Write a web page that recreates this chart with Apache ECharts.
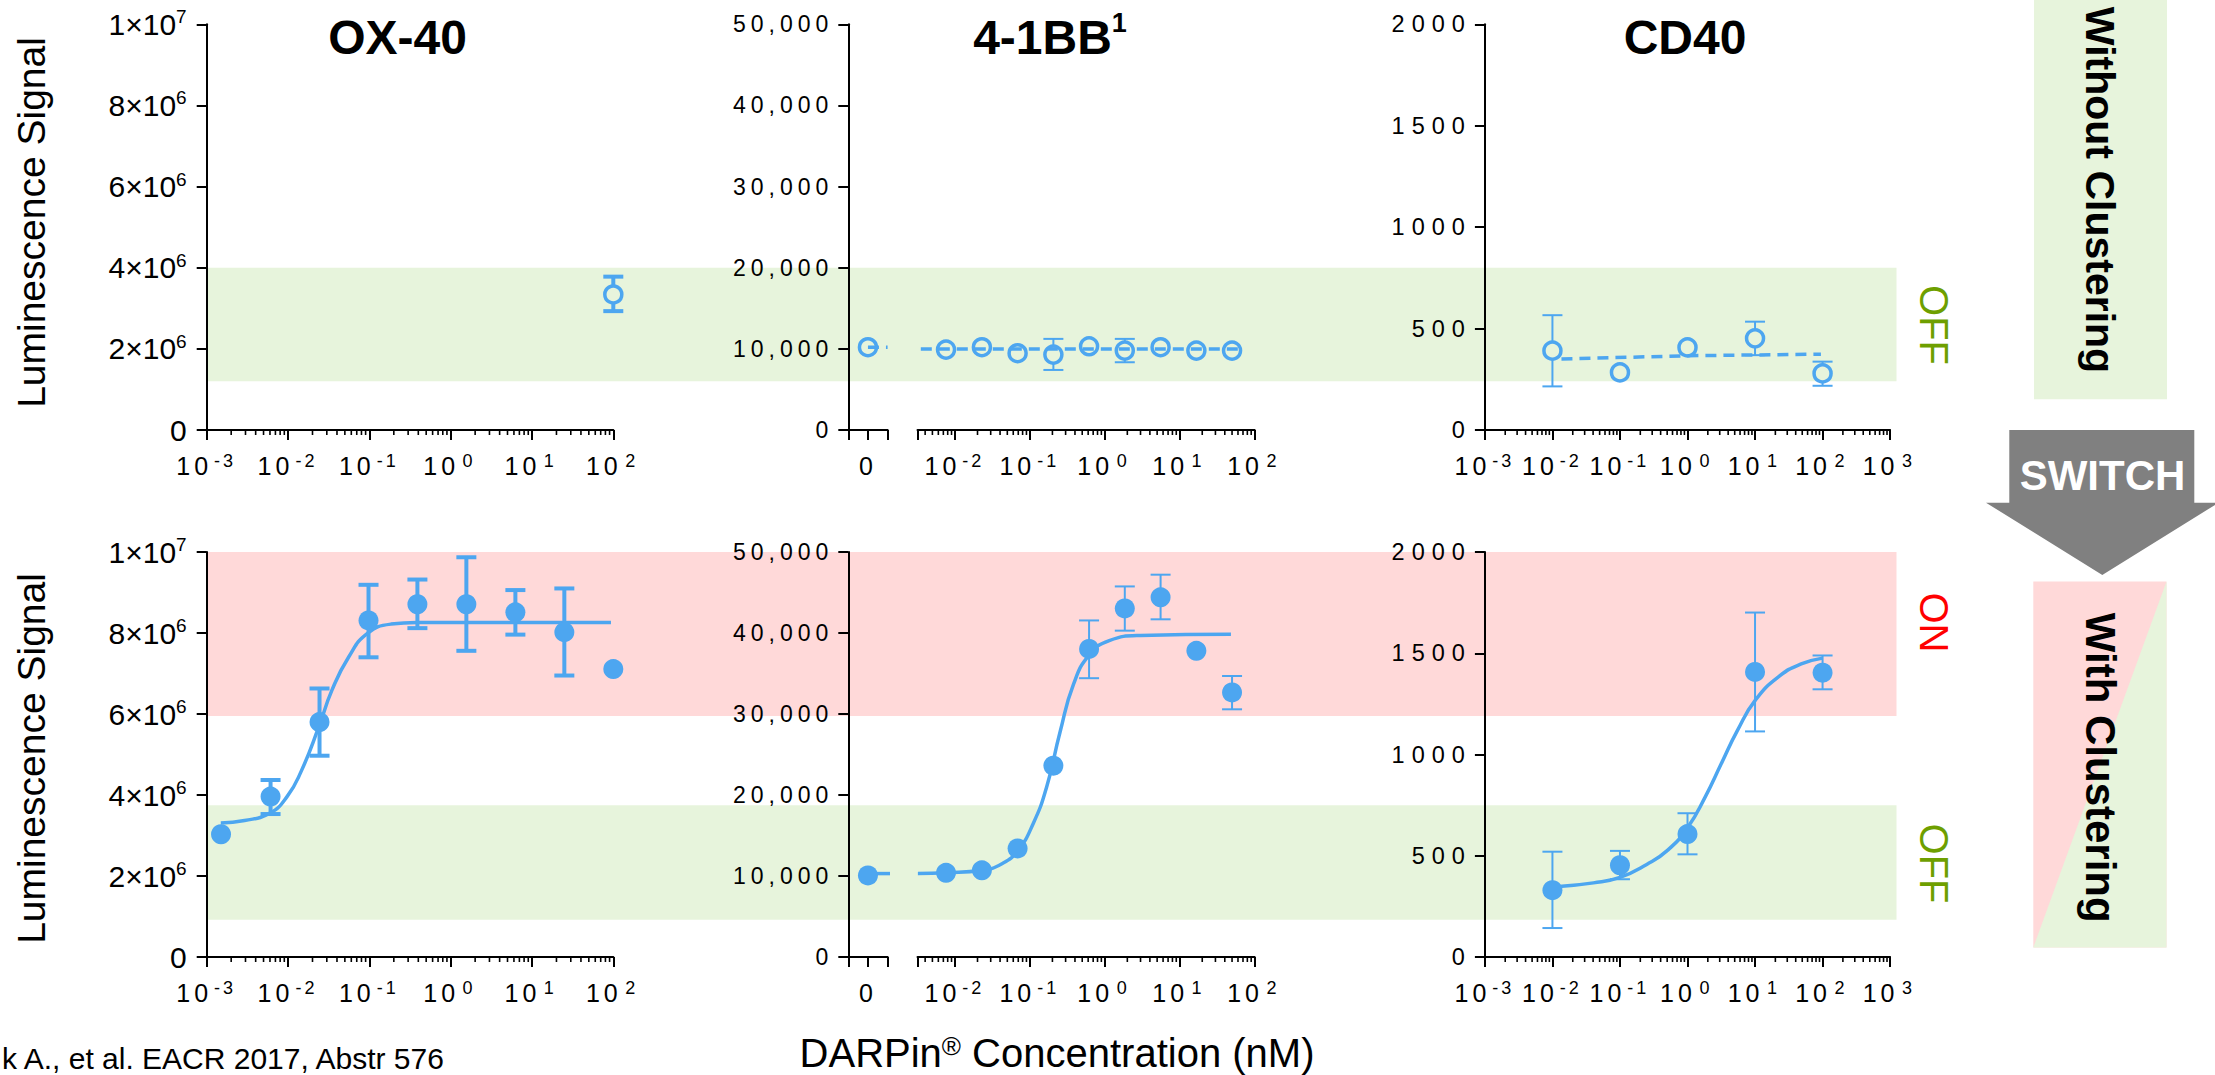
<!DOCTYPE html>
<html><head><meta charset="utf-8">
<script src="https://cdn.jsdelivr.net/npm/echarts@6/dist/echarts.min.js"></script>
<style>
html,body{margin:0;padding:0;background:#fff;overflow:hidden}
#chart{width:2215px;height:1075px}
#chart text[style*="23px"]{letter-spacing:5px}
#chart text[style*="23.5px"]{letter-spacing:7px}
#chart text[style*="25px"]{letter-spacing:4px}
#chart text[style*="18px"]{letter-spacing:3px}
</style></head><body><div id="chart"></div>
<script>
// ---------------- DATA ----------------
// OX-40 (concentration in nM, luminescence signal)
const ox40NoClusterConc = [100];
const ox40NoClusterSignal = [3.34e6];
const ox40NoClusterLow = [2.93e6];
const ox40NoClusterHigh = [3.78e6];

const ox40Conc = [0.0015, 0.0061, 0.0244, 0.0977, 0.39, 1.56, 6.25, 25, 100];
const ox40Signal = [3.03e6, 3.96e6, 5.80e6, 8.31e6, 8.71e6, 8.71e6, 8.51e6, 8.02e6, 7.11e6];
const ox40Low = [null, 3.53e6, 4.97e6, 7.40e6, 8.12e6, 7.56e6, 7.96e6, 6.95e6, null];
const ox40High = [null, 4.37e6, 6.63e6, 9.19e6, 9.32e6, 9.87e6, 9.06e6, 9.10e6, null];
const ox40FitConc = [0.00149, 0.00292, 0.00593, 0.00973, 0.01455, 0.0239, 0.0347, 0.0555, 0.0948, 0.185, 0.386, 5, 93.6];
const ox40FitSignal = [3.31e6, 3.37e6, 3.55e6, 3.96e6, 4.59e6, 5.68e6, 6.59e6, 7.40e6, 7.99e6, 8.22e6, 8.26e6, 8.26e6, 8.26e6];

// 4-1BB
const bbConc = [0.0076, 0.0229, 0.0686, 0.206, 0.617, 1.85, 5.56, 16.7, 50];
const bbNoClusterZero = [10200];
const bbNoCluster = [9910, 10200, 9460, 9290, 10320, 9790, 10200, 9790, 9790];
const bbNoClusterLow = [null, null, null, 7400, null, 8350, null, null, null];
const bbNoClusterHigh = [null, null, null, 11230, null, 11230, null, null, null];
const bbNoClusterFitConc = [0.0035, 60];
const bbNoClusterFitSignal = [9990, 9990];
const bbNoClusterZeroFit = [[0, 10200], [1, 10200]];

const bbClusterZero = [10070];
const bbCluster = [10390, 10700, 13410, 23620, 38030, 43040, 44400, 37800, 32660];
const bbClusterLow = [null, null, null, null, 34420, 40290, 41690, null, 30580];
const bbClusterHigh = [null, null, null, null, 41550, 45750, 47200, null, 34690];
const bbFitConc = [0.0032, 0.0076, 0.0228, 0.0424, 0.0686, 0.111, 0.1675, 0.253, 0.382, 0.618, 1.148, 3.0, 48.3];
const bbFitSignal = [10300, 10390, 10700, 11520, 13100, 16490, 21000, 27780, 33650, 37260, 39070, 39700, 39840];
const bbClusterZeroFit = [[0, 10300], [1.2, 10300]];

// CD40
const cdConc = [0.01, 0.1, 1, 10, 100];
const cdNoCluster = [391, 284, 407, 452, 279];
const cdNoClusterLow = [215, null, null, 369, 218];
const cdNoClusterHigh = [566, null, null, 534, 337];
const cdNoClusterFitConc = [0.0136, 1, 94.6];
const cdNoClusterFitSignal = [350, 366, 374];

const cdCluster = [330, 453, 607, 1408, 1404];
const cdClusterLow = [143, 384, 507, 1114, 1322];
const cdClusterHigh = [520, 524, 710, 1701, 1489];
const cdFitConc = [0.01245, 0.0405, 0.1, 0.249, 0.515, 1.0, 1.84, 3.17, 5.47, 10.3, 23.4, 48.3, 100];
const cdFitSignal = [348, 366, 393, 457, 529, 638, 792, 955, 1118, 1272, 1389, 1447, 1476];

// OFF / ON bands (in OX-40 signal units, shared pixel rows across panels)
const offBandNoCluster = [1.2e6, 4e6];
const onBandCluster = [5.95e6, 1e7];
const offBandCluster = [0.92e6, 3.75e6];

// axis ranges / ticks
const ox40XRange = [0.001, 100];
const bbXRange = [0.0031623, 100];
const cdXRange = [0.001, 1000];
const ox40YMax = 1e7, ox40YStep = 2e6;
const bbYMax = 50000, bbYStep = 10000;
const cdYMax = 2000, cdYStep = 500;
const minorMultipliers = [2, 3, 4, 5, 6, 7, 8, 9];

// ---------------- STYLE / LAYOUT ----------------
const FONT = "'Liberation Sans', Arial, Helvetica, sans-serif";
const BLUE = '#4DA6F0';
const GREEN_BAND = '#E7F4DC';
const RED_BAND = '#FFD9D9';
const TOP_ROW = {top: 24.3, height: 405.7};
const BOT_ROW = {top: 552, height: 405};
const COLS = [
  {left: 206.7, width: 406.6},
  {left: 848.3, width: 39.3},
  {left: 917.5, width: 337.1},
  {left: 1484.9, width: 405.2}
];

const X_RICH = {
  b: {fontSize: 25, lineHeight: 28, fontFamily: FONT, color: '#000'},
  s: {fontSize: 18, lineHeight: 11, verticalAlign: 'top', padding: [0, 0, 0, 9], fontFamily: FONT, color: '#000'}
};
const SCI_RICH = {
  b: {fontSize: 30, lineHeight: 34, fontFamily: FONT, color: '#000'},
  s: {fontSize: 19, lineHeight: 26, verticalAlign: 'top', fontFamily: FONT, color: '#000'}
};

function expLabel(v) {
  const e = Math.log10(v), r = Math.round(e);
  if (Math.abs(e - r) > 1e-6) return '';
  return '{b|10}{s|' + r + '}';
}
function sciLabel(v) {
  if (v === 0) return '{b|0}';
  const e = Math.floor(Math.log10(v) + 1e-9);
  const m = Math.round(v / Math.pow(10, e));
  return '{b|' + m + '×10}{s|' + e + '}';
}
function commaLabel(v) { return Math.round(v).toLocaleString('en-US'); }
function plainLabel(v) { return String(Math.round(v)); }

function minorValues(range) {
  const out = [];
  const e0 = Math.floor(Math.log10(range[0]) + 1e-9), e1 = Math.round(Math.log10(range[1]));
  for (let e = e0; e < e1; e++) minorMultipliers.forEach(m => {
    const v = m * Math.pow(10, e);
    if (v > range[0] && v < range[1]) out.push(v);
  });
  return out;
}

const AXLINE = {show: true, onZero: false, lineStyle: {color: '#000', width: 2}};

function logX(gi, range) {
  return {
    type: 'log', logBase: 10, gridIndex: gi, min: range[0], max: range[1], splitNumber: 6,
    axisLine: AXLINE,
    axisTick: {show: true, interval: 0, length: 10, lineStyle: {color: '#000', width: 2}},
    minorTick: {show: false}, splitLine: {show: false}, minorSplitLine: {show: false},
    axisLabel: {show: true, interval: 0, formatter: expLabel, rich: X_RICH, margin: 22, color: '#000', hideOverlap: false}
  };
}
function zeroX(gi) {
  return {
    type: 'value', gridIndex: gi, min: -1, max: 1, interval: 1,
    axisLine: AXLINE,
    axisTick: {show: true, length: 10, lineStyle: {color: '#000', width: 2}},
    splitLine: {show: false},
    axisLabel: {show: true, formatter: v => (v === 0 ? '{b|0}' : ''), rich: X_RICH, margin: 22, color: '#000'}
  };
}
function valY(gi, max, step, fmt, fontSize, margin, rich, show) {
  return {
    type: 'value', gridIndex: gi, min: 0, max: max, interval: step, show: show,
    axisLine: AXLINE,
    axisTick: {show: true, length: 10, lineStyle: {color: '#000', width: 2}},
    splitLine: {show: false},
    axisLabel: {show: true, formatter: fmt, rich: rich, fontSize: fontSize, fontFamily: FONT, color: '#000', margin: margin}
  };
}

const grids = [], xAxes = [], yAxes = [];
[TOP_ROW, BOT_ROW].forEach(r => COLS.forEach(c => grids.push({
  left: c.left, top: r.top, width: c.width, height: r.height, containLabel: false, outerBoundsMode: 'none'
})));
[0, 4].forEach(o => {
  xAxes.push(logX(o, ox40XRange), zeroX(o + 1), logX(o + 2, bbXRange), logX(o + 3, cdXRange));
  yAxes.push(
    valY(o, ox40YMax, ox40YStep, sciLabel, 30, 20, SCI_RICH, true),
    valY(o + 1, bbYMax, bbYStep, commaLabel, 23, 15, undefined, true),
    valY(o + 2, bbYMax, bbYStep, commaLabel, 23, 15, undefined, false),
    valY(o + 3, cdYMax, cdYStep, plainLabel, 23.5, 13, undefined, true)
  );
});

function pairs(xs, ys) { return xs.map((x, i) => [x, ys[i]]); }

function scatter(ai, xs, ys, hollow) {
  return {
    type: 'scatter', xAxisIndex: ai, yAxisIndex: ai, data: pairs(xs, ys), z: 5, silent: true,
    symbol: 'circle', symbolSize: hollow ? 17 : 20,
    itemStyle: hollow ? {color: 'rgba(255,255,255,0)', borderColor: BLUE, borderWidth: 3.5, opacity: 1}
                      : {color: BLUE, opacity: 1}
  };
}
function fitLine(ai, data, dashed, clip) {
  return {
    type: 'line', xAxisIndex: ai, yAxisIndex: ai, data: data, z: 4, silent: true, clip: clip !== false,
    showSymbol: false, symbol: 'none', smooth: dashed ? false : 0.5,
    lineStyle: {color: BLUE, width: 3.5, type: dashed ? [11, 7] : 'solid', cap: 'butt'}
  };
}
function errorBars(ai, xs, mid, low, high, width, hollow) {
  const data = [];
  xs.forEach((x, i) => { if (low[i] != null) data.push([x, mid[i], low[i], high[i]]); });
  const r = hollow ? 8.5 : 0;
  return {
    type: 'custom', xAxisIndex: ai, yAxisIndex: ai, data: data, z: 3, silent: true, clip: false,
    dimensions: ['x', 'y', 'lo', 'hi'], encode: {x: 0, y: 1},
    renderItem: function (params, api) {
      const x = api.value(0);
      const pm = api.coord([x, api.value(1)]);
      const pl = api.coord([x, api.value(2)]);
      const ph = api.coord([x, api.value(3)]);
      const st = {stroke: BLUE, lineWidth: width, fill: null};
      const hw = 10;
      const ch = [];
      if (ph[1] < pm[1] - r) ch.push({type: 'line', shape: {x1: pm[0], y1: ph[1], x2: pm[0], y2: pm[1] - r}, style: st});
      if (pl[1] > pm[1] + r) ch.push({type: 'line', shape: {x1: pm[0], y1: pm[1] + r, x2: pm[0], y2: pl[1]}, style: st});
      ch.push({type: 'line', shape: {x1: pm[0] - hw, y1: ph[1], x2: pm[0] + hw, y2: ph[1]}, style: st});
      ch.push({type: 'line', shape: {x1: pm[0] - hw, y1: pl[1], x2: pm[0] + hw, y2: pl[1]}, style: st});
      return {type: 'group', children: ch};
    }
  };
}
function minorTicks(ai, range) {
  return {
    type: 'custom', xAxisIndex: ai, yAxisIndex: ai, data: minorValues(range).map(v => [v, 0]),
    z: 6, silent: true, clip: false,
    renderItem: function (params, api) {
      const p = api.coord([api.value(0), 0]);
      return {type: 'line', shape: {x1: p[0], y1: p[1], x2: p[0], y2: p[1] + 5}, style: {stroke: '#000', lineWidth: 1.6}};
    }
  };
}

const series = [
  // --- top row: without clustering ---
  errorBars(0, ox40NoClusterConc, ox40NoClusterSignal, ox40NoClusterLow, ox40NoClusterHigh, 4, true),
  scatter(0, ox40NoClusterConc, ox40NoClusterSignal, true),
  minorTicks(0, ox40XRange),

  fitLine(1, bbNoClusterZeroFit, true),
  scatter(1, [0], bbNoClusterZero, true),

  fitLine(2, pairs(bbNoClusterFitConc, bbNoClusterFitSignal), true),
  errorBars(2, bbConc, bbNoCluster, bbNoClusterLow, bbNoClusterHigh, 2, true),
  scatter(2, bbConc, bbNoCluster, true),
  minorTicks(2, bbXRange),

  fitLine(3, pairs(cdNoClusterFitConc, cdNoClusterFitSignal), true),
  errorBars(3, cdConc, cdNoCluster, cdNoClusterLow, cdNoClusterHigh, 2, true),
  scatter(3, cdConc, cdNoCluster, true),
  minorTicks(3, cdXRange),

  // --- bottom row: with clustering ---
  fitLine(4, pairs(ox40FitConc, ox40FitSignal), false),
  errorBars(4, ox40Conc, ox40Signal, ox40Low, ox40High, 4, false),
  scatter(4, ox40Conc, ox40Signal, false),
  minorTicks(4, ox40XRange),

  fitLine(5, bbClusterZeroFit, false, false),
  scatter(5, [0], bbClusterZero, false),

  fitLine(6, pairs(bbFitConc, bbFitSignal), false),
  errorBars(6, bbConc, bbCluster, bbClusterLow, bbClusterHigh, 2, false),
  scatter(6, bbConc, bbCluster, false),
  minorTicks(6, bbXRange),

  fitLine(7, pairs(cdFitConc, cdFitSignal), false),
  errorBars(7, cdConc, cdCluster, cdClusterLow, cdClusterHigh, 2, false),
  scatter(7, cdConc, cdCluster, false),
  minorTicks(7, cdXRange)
];

const chart = echarts.init(document.getElementById('chart'), null, {renderer: 'svg', width: 2215, height: 1075});
chart.setOption({
  animation: false,
  backgroundColor: '#fff',
  textStyle: {fontFamily: FONT},
  grid: grids, xAxis: xAxes, yAxis: yAxes, series: series
});

// ---------------- BANDS & ANNOTATIONS ----------------
const bx0 = chart.convertToPixel({xAxisIndex: 0}, ox40XRange[0]);
const bx1 = chart.convertToPixel({xAxisIndex: 3}, cdXRange[1]) + 6.4;
function band(yAxisIndex, range, color) {
  const ya = chart.convertToPixel({yAxisIndex: yAxisIndex}, range[1]);
  const yb = chart.convertToPixel({yAxisIndex: yAxisIndex}, range[0]);
  return {type: 'rect', z: -10, silent: true, shape: {x: bx0, y: ya, width: bx1 - bx0, height: yb - ya}, style: {fill: color}};
}
function txt(x, y, text, font, fill, rot, rich) {
  const st = {text: text, font: font, fill: fill, align: 'center', verticalAlign: 'middle', textAlign: 'center', textVerticalAlign: 'middle'};
  if (rich) st.rich = rich;
  return {type: 'text', x: x, y: y, rotation: rot || 0, z: 10, silent: true, style: st};
}
const B = 'bold ';
chart.setOption({
  graphic: [
    band(0, offBandNoCluster, GREEN_BAND),
    band(4, onBandCluster, RED_BAND),
    band(4, offBandCluster, GREEN_BAND),

    txt(397.5, 37.5, 'OX-40', B + '48px ' + FONT, '#000'),
    txt(1050, 37.5, '{t|4-1BB}{s|1}', B + '48px ' + FONT, '#000', 0, {
      t: {fontSize: 48, fontWeight: 'bold', fontFamily: FONT, lineHeight: 56, fill: '#000'},
      s: {fontSize: 27, fontWeight: 'bold', fontFamily: FONT, lineHeight: 42, verticalAlign: 'top', fill: '#000'}
    }),
    txt(1685, 37.5, 'CD40', B + '48px ' + FONT, '#000'),

    txt(31, 222.5, 'Luminescence Signal', '39px ' + FONT, '#000', Math.PI / 2),
    txt(31, 758.5, 'Luminescence Signal', '39px ' + FONT, '#000', Math.PI / 2),
    txt(1057, 1053, '{a|DARPin}{r|®}{a| Concentration (nM)}', '40px ' + FONT, '#000', 0, {
      a: {fontSize: 40, fontFamily: FONT, lineHeight: 40, fill: '#000'},
      r: {fontSize: 26, fontFamily: FONT, lineHeight: 30, verticalAlign: 'top', fill: '#000'}
    }),
    {type: 'text', x: 2, y: 1058, z: 10, silent: true,
     style: {text: 'k A., et al. EACR 2017, Abstr 576', font: '30px ' + FONT, fill: '#000', align: 'left', verticalAlign: 'middle', textAlign: 'left', textVerticalAlign: 'middle'}},

    txt(1934, 325, 'OFF', '40px ' + FONT, '#6E9F00', -Math.PI / 2),
    txt(1934, 622.5, 'ON', '40px ' + FONT, '#FF0000', -Math.PI / 2),
    txt(1934, 863.5, 'OFF', '40px ' + FONT, '#6E9F00', -Math.PI / 2),

    // right side legend boxes
    {type: 'rect', z: 1, silent: true, shape: {x: 2034, y: -2, width: 133, height: 401.3}, style: {fill: GREEN_BAND}},
    txt(2100, 190, 'Without Clustering', B + '41px ' + FONT, '#000', -Math.PI / 2),

    {type: 'polygon', z: 1, silent: true, shape: {points: [[2009.3, 430], [2194.3, 430], [2194.3, 502.7], [2218.6, 502.7], [2102.3, 575], [1986, 502.7], [2009.3, 502.7]]}, style: {fill: '#808080'}},
    txt(2102.5, 475, 'SWITCH', B + '42px ' + FONT, '#FFFFFF'),

    {type: 'rect', z: 1, silent: true, shape: {x: 2033.3, y: 581.4, width: 133.2, height: 366}, style: {fill: RED_BAND}},
    {type: 'polygon', z: 2, silent: true, shape: {points: [[2166.5, 581.4], [2166.5, 947.4], [2033.3, 947.4]]}, style: {fill: GREEN_BAND}},
    txt(2100, 767.7, 'With Clustering', B + '42px ' + FONT, '#000', -Math.PI / 2)
  ]
});
</script></body></html>
